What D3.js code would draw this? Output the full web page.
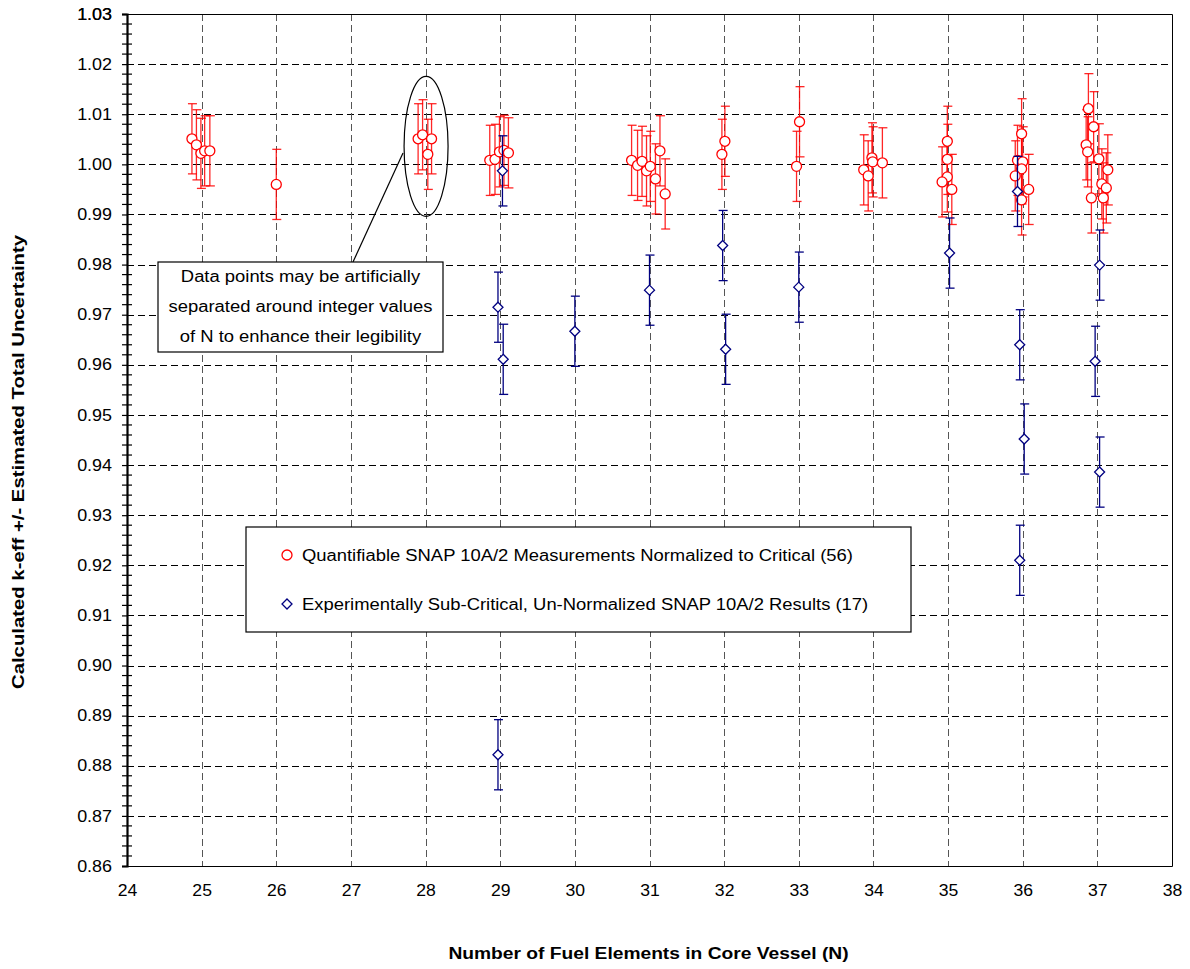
<!DOCTYPE html>
<html>
<head>
<meta charset="utf-8">
<script src="https://cdn.jsdelivr.net/npm/d3@7/dist/d3.min.js"></script>
<style>
  body { margin: 0; background: #fff; }
  #chart { width: 1190px; height: 969px; }
  text { font-family: "Liberation Sans", Arial, sans-serif; fill: #000; }
</style>
</head>
<body>
<div id="chart"></div>
<script>
(function(){
  'use strict';

  //----- quantifiable measurements, normalized to critical (red circles)
  var redN = [
    24.87, 24.93, 24.99, 25.04, 25.11,
    26.0,
    27.9, 27.96, 28.03, 28.08,
    28.86, 28.93, 28.99, 29.05, 29.11,
    30.76, 30.84, 30.9, 30.96, 31.01, 31.08, 31.14, 31.21,
    31.97, 32.01,
    32.97, 33.01,
    33.87, 33.93, 33.98, 33.99, 34.12,
    34.99, 34.99, 34.99, 34.92, 35.05,
    35.985, 35.93, 36.0, 35.985, 35.9, 36.08, 35.985,
    36.88, 36.95, 36.85, 36.87, 37.02, 37.14, 37.06, 37.12, 36.92, 37.08
  ];
  var redK = [
    1.0051, 1.0039, 1.0022, 1.0027, 1.0027,
    0.9960,
    1.0051, 1.0059, 1.0020, 1.0051,
    1.0008, 1.0010, 1.0025, 1.0028, 1.0023,
    1.0008, 0.9998, 1.0006, 0.9987, 0.9996, 0.9971, 1.0027, 0.9941,
    1.0020, 1.0046,
    0.9996, 1.0085,
    0.9989, 0.9977, 1.0013, 1.0005, 1.0003,
    1.0046, 1.0010, 0.9975, 0.9965, 0.9950,
    1.0061, 1.0008, 1.0005, 0.9991, 0.9977, 0.9950, 0.9929,
    1.0111, 1.0075, 1.0039, 1.0025, 1.0011, 0.9989, 0.9961, 0.9953, 0.9933, 0.9933
  ];
  var redErr = redK.map(function () { return 0.007; });

  //----- experimentally sub-critical, un-normalized (blue diamonds)
  var blueN = [29.03, 28.97, 29.04, 28.97, 30.0, 31.0, 31.98, 32.02, 33.0,
               35.02, 35.93, 35.96, 36.02, 35.96, 37.03, 36.97, 37.03];
  var blueK = [0.9987, 0.9715, 0.9611, 0.8822, 0.9667, 0.9749, 0.9838, 0.9631, 0.9755,
               0.9823, 0.9946, 0.9640, 0.9452, 0.9210, 0.9799, 0.9607, 0.9386];
  var blueErr = blueK.map(function () { return 0.007; });

  var xTicks = d3.range(24, 39, 1);
  var yTicks = d3.range(86, 104, 1).map(function (v) { return v / 100; });
  var yMinor = d3.range(430, 516, 1).map(function (v) { return v / 500; });

  var legendLabels = [
    'Quantifiable SNAP 10A/2 Measurements Normalized to Critical (56)',
    'Experimentally Sub-Critical, Un-Normalized SNAP 10A/2 Results (17)'
  ];
  var noteLines = [
    'Data points may be artificially',
    'separated around integer values',
    'of N to enhance their legibility'
  ];

  var W = 1190, H = 969,
      left = 127, right = 1172, top = 14, bottom = 866;

  var svg = d3.select('#chart').append('svg')
    .attr('width', W)
    .attr('height', H);

  var x = d3.scaleLinear().domain([24, 38]).range([left, right]);
  var y = d3.scaleLinear().domain([0.86, 1.03]).range([bottom, top]);

  //----- widen text a bit, the original font runs wider than Arial
  function stretch(sel, f) {
    sel.each(function () {
      var len = this.getComputedTextLength();
      d3.select(this)
        .attr('textLength', len * f)
        .attr('lengthAdjust', 'spacingAndGlyphs');
    });
  }

  //----- grid
  var grid = svg.append('g').attr('class', 'grid');
  grid.selectAll('line.hgrid')
    .data(yTicks.filter(function (d) { return d > 0.86 && d < 1.03; })).enter()
    .append('line')
    .attr('x1', left).attr('x2', right)
    .attr('y1', function (d) { return Math.round(y(d)) + 0.5; })
    .attr('y2', function (d) { return Math.round(y(d)) + 0.5; })
    .attr('stroke', '#000')
    .attr('stroke-dasharray', '7,4');
  grid.selectAll('line.vgrid')
    .data(xTicks.filter(function (d) { return d > 24 && d < 38; })).enter()
    .append('line')
    .attr('y1', top).attr('y2', bottom)
    .attr('x1', function (d) { return Math.round(x(d)) + 0.5; })
    .attr('x2', function (d) { return Math.round(x(d)) + 0.5; })
    .attr('stroke', '#555')
    .attr('stroke-dasharray', '7,4');

  //----- frame
  svg.append('path')
    .attr('d', 'M' + left + ',' + (top + 0.5) + 'H' + (right + 0.5) + 'V' + (bottom + 0.5) + 'H' + left)
    .attr('fill', 'none')
    .attr('stroke', '#000');

  //----- y axis
  var yAxis = d3.axisLeft(y).tickValues(yTicks.concat([1.03]))
    .tickFormat(d3.format('.2f')).tickSize(5).tickPadding(10);
  var gy = svg.append('g')
    .attr('transform', 'translate(' + left + ',0)')
    .call(yAxis);
  gy.select('.domain').attr('stroke-width', 2.2);
  gy.selectAll('.tick line').attr('stroke-width', 1.2);
  gy.selectAll('text').style('font-size', '16px').attr('font-family', null);
  stretch(gy.selectAll('text'), 1.12);
  gy.selectAll('line.minor')
    .data(yMinor.filter(function (d) { return Math.round(d * 500) % 5 !== 0; })).enter()
    .append('line')
    .attr('class', 'minor')
    .attr('x1', -5).attr('x2', 5)
    .attr('y1', function (d) { return y(d); })
    .attr('y2', function (d) { return y(d); })
    .attr('stroke', '#000')
    .attr('stroke-width', 1.2);

  //----- x axis
  var xAxis = d3.axisBottom(x).tickValues(xTicks).tickSize(0).tickPadding(19);
  var gx = svg.append('g')
    .attr('transform', 'translate(0,' + bottom + ')')
    .call(xAxis);
  gx.select('.domain').remove();
  gx.selectAll('text').style('font-size', '16px').attr('font-family', null);
  stretch(gx.selectAll('text'), 1.1);

  //----- titles
  var xTitle = svg.append('text')
    .attr('x', (left + right) / 2 - 1)
    .attr('y', 959)
    .attr('text-anchor', 'middle')
    .style('font-size', '16px')
    .style('font-weight', 'bold')
    .text('Number of Fuel Elements in Core Vessel (N)');
  stretch(xTitle, 1.2);
  var yTitle = svg.append('text')
    .attr('transform', 'translate(24,' + ((top + bottom) / 2 + 22) + ') rotate(-90)')
    .attr('text-anchor', 'middle')
    .style('font-size', '16px')
    .style('font-weight', 'bold')
    .text('Calculated k-eff +/- Estimated Total Uncertainty');
  stretch(yTitle, 1.27);

  //----- series
  function diamond(s) {
    return 'M0,' + (-s) + 'L' + s + ',0L0,' + s + 'L' + (-s) + ',0Z';
  }

  function drawSeries(ns, ks, errs, color, isCircle) {
    var data = ns.map(function (n, i) { return { n: n, k: ks[i], e: errs[i] }; });
    var g = svg.append('g');
    var bars = g.selectAll('g.bar').data(data).enter().append('g')
      .attr('stroke', color)
      .attr('stroke-width', 1.3)
      .attr('stroke-opacity', isCircle ? 0.85 : 1);
    bars.append('line')
      .attr('x1', function (d) { return x(d.n); })
      .attr('x2', function (d) { return x(d.n); })
      .attr('y1', function (d) { return y(d.k + d.e); })
      .attr('y2', function (d) { return y(d.k - d.e); });
    bars.append('line')
      .attr('x1', function (d) { return x(d.n) - 4; })
      .attr('x2', function (d) { return x(d.n) + 5; })
      .attr('y1', function (d) { return y(d.k + d.e); })
      .attr('y2', function (d) { return y(d.k + d.e); });
    bars.append('line')
      .attr('x1', function (d) { return x(d.n) - 4; })
      .attr('x2', function (d) { return x(d.n) + 5; })
      .attr('y1', function (d) { return y(d.k - d.e); })
      .attr('y2', function (d) { return y(d.k - d.e); });

    if (isCircle) {
      g.selectAll('circle').data(data).enter().append('circle')
        .attr('cx', function (d) { return x(d.n); })
        .attr('cy', function (d) { return y(d.k); })
        .attr('r', 5)
        .attr('fill', '#fff')
        .attr('stroke', color)
        .attr('stroke-width', 1.3);
    } else {
      g.selectAll('path.mark').data(data).enter().append('path')
        .attr('class', 'mark')
        .attr('transform', function (d) { return 'translate(' + x(d.n) + ',' + y(d.k) + ')'; })
        .attr('d', diamond(5))
        .attr('fill', '#fff')
        .attr('stroke', color)
        .attr('stroke-width', 1.3);
    }
  }

  drawSeries(redN, redK, redErr, '#ff0000', true);
  drawSeries(blueN, blueK, blueErr, '#000080', false);

  //----- annotation: ellipse, leader line, note box
  svg.append('ellipse')
    .attr('cx', x(28) + 0.5).attr('cy', y(1.0036))
    .attr('rx', 22).attr('ry', 70)
    .attr('fill', 'none').attr('stroke', '#000').attr('stroke-width', 1.2);
  svg.append('line')
    .attr('x1', 403).attr('y1', 153)
    .attr('x2', 353).attr('y2', 262)
    .attr('stroke', '#000').attr('stroke-width', 1.2);

  var note = svg.append('g').attr('transform', 'translate(158,262)');
  note.append('rect')
    .attr('width', 285).attr('height', 90)
    .attr('fill', '#fff').attr('stroke', '#000').attr('stroke-width', 1.2);
  var noteText = note.selectAll('text').data(noteLines).enter().append('text')
    .attr('x', 142.5)
    .attr('y', function (d, i) { return 20 + i * 30; })
    .attr('text-anchor', 'middle')
    .style('font-size', '16px')
    .text(function (d) { return d; });
  stretch(noteText, 1.15);

  //----- legend
  var legend = svg.append('g').attr('transform', 'translate(246,527)');
  legend.append('rect')
    .attr('width', 665).attr('height', 105)
    .attr('fill', '#fff').attr('stroke', '#000').attr('stroke-width', 1.2);
  var items = legend.selectAll('g.item').data(legendLabels).enter().append('g')
    .attr('transform', function (d, i) { return 'translate(0,' + (28 + i * 49) + ')'; });
  var legendText = items.append('text')
    .attr('x', 56).attr('y', 6)
    .style('font-size', '16px')
    .text(function (d) { return d; });
  stretch(legendText, 1.15);
  items.filter(function (d, i) { return i === 0; }).append('circle')
    .attr('cx', 41).attr('cy', 0).attr('r', 5)
    .attr('fill', '#fff').attr('stroke', '#ff0000').attr('stroke-width', 1.3);
  items.filter(function (d, i) { return i === 1; }).append('path')
    .attr('transform', 'translate(41,0)')
    .attr('d', diamond(5))
    .attr('fill', '#fff').attr('stroke', '#000080').attr('stroke-width', 1.3);
})();
</script>
</body>
</html>
